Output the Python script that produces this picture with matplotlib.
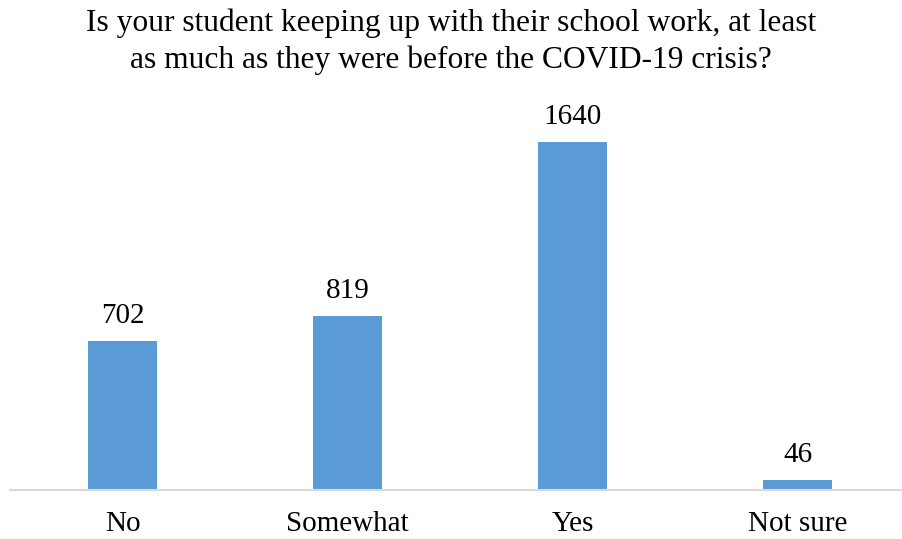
import matplotlib.pyplot as plt

categories = ["No", "Somewhat", "Yes", "Not sure"]
counts = [702, 819, 1640, 46]
title = ("Is your student keeping up with their school work, at least\n"
         "as much as they were before the COVID-19 crisis?")

plt.rcParams['font.family'] = ['Liberation Serif', 'DejaVu Serif']

fig = plt.figure(figsize=(9.02, 5.39), dpi=100)
ax = fig.add_axes([10 / 902, 49 / 539, 892 / 902, 390 / 539])

bars = ax.bar(range(len(categories)), counts, width=0.31, color="#5b9bd5")
for b, v in zip(bars, counts):
    ax.annotate(str(v), (b.get_x() + b.get_width() / 2, v),
                xytext=(0, 9), textcoords="offset points",
                ha="center", va="bottom", fontsize=21)

ax.set_xlim(-0.5, 3.5 - 8 / 225)
ax.set_ylim(0, 1838)
ax.set_xticks(range(len(categories)))
ax.set_xticklabels(categories, fontsize=21)
ax.tick_params(axis="x", length=0, pad=15)
ax.set_yticks([])
for s in ["top", "left", "right"]:
    ax.spines[s].set_visible(False)
ax.spines["bottom"].set_color("#d9d9d9")
ax.spines["bottom"].set_linewidth(1.5)

fig.text(0.5, 1 - 42 / 539, title, ha="center", va="center",
         fontsize=22.7, linespacing=1.35)

fig.savefig("out.png", dpi=100)
